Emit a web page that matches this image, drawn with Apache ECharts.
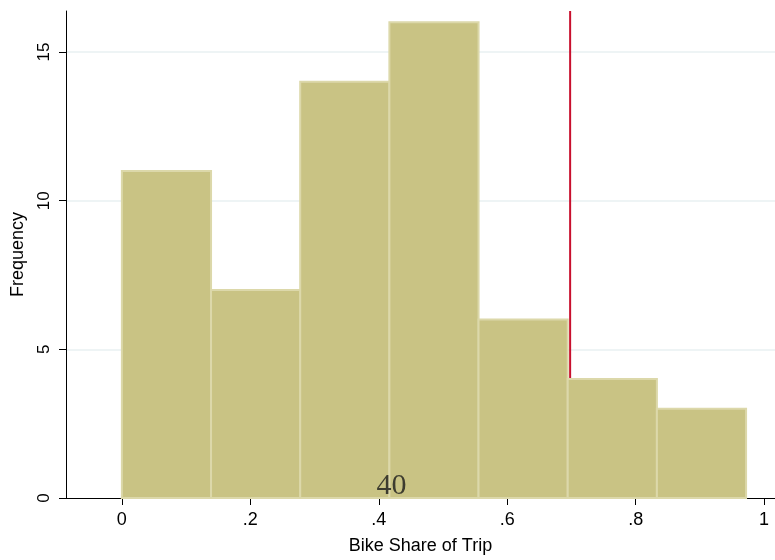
<!DOCTYPE html>
<html>
<head>
<meta charset="utf-8">
<script src="https://cdn.jsdelivr.net/npm/echarts@6/dist/echarts.min.js"></script>
<style>html,body{margin:0;padding:0;background:#fff}#c{width:775px;height:560px}</style>
</head>
<body>
<div id="c"></div>
<script>
// Data
var binStart = 0;
var binWidth = 0.13885;
var counts = [11, 7, 14, 16, 6, 4, 3];
var refLineX = 0.698;
var xTicks = [0, 0.2, 0.4, 0.6, 0.8, 1];
var yTickStep = 5;
var annotationText = '40';
var annotationPos = [0.42, 0.4];

var bins = counts.map(function (c, i) {
  return [binStart + i * binWidth, binStart + (i + 1) * binWidth, c];
});

var chart = echarts.init(document.getElementById('c'), null, {renderer: 'canvas'});
var font = 'Liberation Sans, Arial, sans-serif';
chart.setOption({
  animation: false,
  backgroundColor: '#fff',
  grid: {left: 66, right: 0, top: 11, bottom: 62, containLabel: false, outerBoundsMode: 'none'},
  xAxis: {
    type: 'value', min: -0.087, max: 1.017,
    name: 'Bike Share of Trip', nameLocation: 'middle', nameGap: 39,
    nameTextStyle: {fontFamily: font, fontSize: 18, color: '#000'},
    axisLine: {show: true, onZero: false, lineStyle: {color: '#000', width: 1}},
    axisTick: {show: true, length: 7, lineStyle: {color: '#000'}, customValues: xTicks},
    axisLabel: {fontFamily: font, fontSize: 18, color: '#000', margin: 13, customValues: xTicks,
      formatter: function (v) { var s = String(+v.toFixed(2)); return s.replace(/^0\./, '.'); }},
    splitLine: {show: false}
  },
  yAxis: {
    type: 'value', min: 0, max: 16.38, interval: yTickStep,
    name: 'Frequency', nameLocation: 'middle', nameGap: 39,
    nameTextStyle: {fontFamily: font, fontSize: 18, color: '#000'},
    axisLine: {show: true, onZero: false, lineStyle: {color: '#000', width: 1}},
    axisTick: {show: true, length: 7, lineStyle: {color: '#000'}},
    axisLabel: {fontFamily: font, fontSize: 17, color: '#000', rotate: 90, margin: 13,
      showMaxLabel: false},
    splitLine: {show: true, showMinLine: false, showMaxLine: false,
      lineStyle: {color: '#E8F0F2', width: 1.5}}
  },
  series: [
    {
      type: 'line', z: 1, symbol: 'none',
      data: [[refLineX, 0], [refLineX, 16.38]],
      lineStyle: {color: '#C8102E', width: 2}
    },
    {
      type: 'custom', z: 3,
      renderItem: function (params, api) {
        var p0 = api.coord([api.value(0), api.value(2)]);
        var p1 = api.coord([api.value(1), 0]);
        return {
          type: 'rect',
          shape: {x: p0[0], y: p0[1], width: p1[0] - p0[0], height: p1[1] - p0[1]},
          style: {fill: '#C9C384', stroke: '#DCD8AA', lineWidth: 2}
        };
      },
      encode: {x: [0, 1], y: 2},
      data: bins
    },
    {
      type: 'scatter', z: 5, symbolSize: 0,
      data: [annotationPos],
      label: {show: true, position: 'inside', formatter: annotationText,
        fontFamily: 'Liberation Serif, Times New Roman, serif', fontSize: 30, color: '#1a1a1a'}
    }
  ]
});
</script>
</body>
</html>
